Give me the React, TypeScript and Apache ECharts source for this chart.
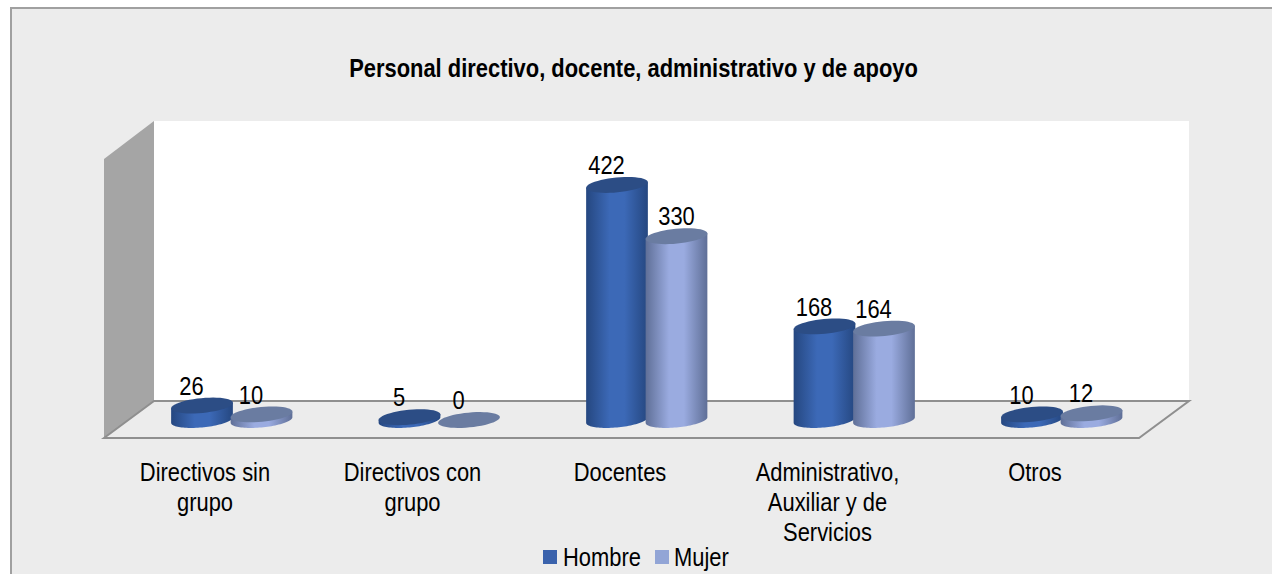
import React, { useEffect, useRef } from "react";
import * as echarts from "echarts";

const categories = [
  "Directivos sin\ngrupo",
  "Directivos con\ngrupo",
  "Docentes",
  "Administrativo,\nAuxiliar y de\nServicios",
  "Otros",
];
const hombre = [26, 5, 422, 168, 10];
const mujer = [10, 0, 330, 164, 12];
const titleText = "Personal directivo, docente, administrativo y de apoyo";

const FONT = "'Liberation Sans', Arial, sans-serif";
const HOMBRE_COLOR = "#3a62ac";
const MUJER_COLOR = "#92a5d6";
const RX = 31;
const RY = 7.4;
const ROT = (5.5 * Math.PI) / 180;
const NARROW = 0.86;
const STEPS = 48;

// Point on the tilted ellipse that forms a cylinder cap.
function capPoint(cx: number, cy: number, t: number) {
  const ex = RX * Math.cos(t);
  const ey = RY * Math.sin(t);
  return [cx + ex * Math.cos(ROT) + ey * Math.sin(ROT), cy - ex * Math.sin(ROT) + ey * Math.cos(ROT)];
}
// Parameter at which the ellipse reaches its rightmost x (silhouette of the cylinder).
const T_RIGHT = Math.atan2(RY * Math.sin(ROT), RX * Math.cos(ROT));

echarts.graphic.registerShape(
  "cylCap",
  echarts.graphic.extendShape({
    shape: { cx: 0, cy: 0 },
    buildPath(ctx: any, s: any) {
      for (let k = 0; k <= STEPS; k++) {
        const p = capPoint(s.cx, s.cy, (k / STEPS) * Math.PI * 2);
        if (k === 0) ctx.moveTo(p[0], p[1]);
        else ctx.lineTo(p[0], p[1]);
      }
      ctx.closePath();
    },
  })
);
echarts.graphic.registerShape(
  "cylSide",
  echarts.graphic.extendShape({
    shape: { cx: 0, top: 0, base: 0 },
    buildPath(ctx: any, s: any) {
      const start = capPoint(s.cx, s.top, T_RIGHT);
      ctx.moveTo(start[0], start[1]);
      for (let k = 0; k <= STEPS; k++) {
        const p = capPoint(s.cx, s.base, T_RIGHT + (k / STEPS) * Math.PI);
        ctx.lineTo(p[0], p[1]);
      }
      const end = capPoint(s.cx, s.top, T_RIGHT + Math.PI);
      ctx.lineTo(end[0], end[1]);
      ctx.closePath();
    },
  })
);

function sideGradient(edge: string, mid: string) {
  return new echarts.graphic.LinearGradient(0, 0, 1, 0, [
    { offset: 0, color: edge },
    { offset: 0.38, color: mid },
    { offset: 0.62, color: mid },
    { offset: 1, color: edge },
  ]);
}

function cylinderSeries(name: string, values: number[], dx: number, legendColor: string, top: string, edge: string, mid: string) {
  return {
    type: "custom",
    name,
    data: values.map((v, i) => [i, v]),
    itemStyle: { color: legendColor },
    encode: { x: 0, y: 1 },
    silent: true,
    renderItem: (_p: any, api: any) => {
      const i = api.value(0);
      const v = api.value(1);
      const [cxRaw, base] = api.coord([i, 0]);
      const [, topY] = api.coord([i, v]);
      const cx = cxRaw + dx;
      const labelDx = name === "Mujer" && i === 2 ? 0 : -10.5;
      const children: any[] = [];
      if (v > 0) {
        children.push({
          type: "cylSide",
          shape: { cx, top: topY, base },
          style: { fill: sideGradient(edge, mid) },
        });
      }
      children.push({ type: "cylCap", shape: { cx, cy: topY }, style: { fill: top } });
      children.push({
        type: "text",
        x: cx + labelDx,
        y: topY - 20,
        scaleX: NARROW,
        style: {
          text: String(v),
          fill: "#000",
          font: `25.5px ${FONT}`,
          align: "center",
          verticalAlign: "middle",
        },
      });
      return { type: "group", children };
    },
  };
}

const categoryLabelSeries = {
  type: "custom",
  name: "Categorías",
  data: categories.map((_c, i) => [i, 0]),
  encode: { x: 0, y: 1 },
  silent: true,
  renderItem: (_p: any, api: any) => {
    const i = api.value(0);
    const [x] = api.coord([i, 0]);
    return {
      type: "text",
      x,
      y: 456.5,
      scaleX: NARROW,
      style: {
        text: categories[i],
        fill: "#000",
        font: `25.5px ${FONT}`,
        lineHeight: 30,
        align: "center",
        verticalAlign: "top",
      },
    };
  },
};

function narrowText(text: string, x: number, y: number, align: string, weight: string) {
  return {
    type: "text",
    x,
    y,
    scaleX: NARROW,
    z: 10,
    style: { text, fill: "#000", font: `${weight} 25.5px ${FONT}`, align, verticalAlign: "middle" },
  };
}

export default function App() {
  const ref = useRef<HTMLDivElement>(null);
  useEffect(() => {
    const chart = echarts.init(ref.current!, undefined, { renderer: "svg" });
    chart.setOption({
      animation: false,
      backgroundColor: "#ffffff",
      grid: { left: 101.25, width: 1037.5, top: 141.5, height: 278.5 },
      xAxis: {
        type: "category",
        data: categories,
        axisLine: { show: false },
        axisTick: { show: false },
        splitLine: { show: false },
        axisLabel: { show: false },
      },
      yAxis: { type: "value", min: 0, max: 500, show: false },
      graphic: [
        { type: "rect", z: -10, shape: { x: 11, y: 8, width: 1280, height: 580 }, style: { fill: "#ececec", stroke: "#a0a0a0", lineWidth: 2 } },
        { type: "rect", z: -9, shape: { x: 154, y: 121, width: 1035, height: 280 }, style: { fill: "#ffffff" } },
        { type: "polygon", z: -9, shape: { points: [[104, 159], [154, 121], [154, 401], [104, 438]] }, style: { fill: "#a5a5a5" } },
        { type: "polygon", z: -8, shape: { points: [[104, 438], [154, 401], [1189, 401], [1139, 438]] }, style: { fill: "#ececec", stroke: "#8f8f8f", lineWidth: 2 } },
        narrowText(titleText, 633.5, 68, "center", "bold"),
        { type: "rect", z: 10, shape: { x: 543, y: 550, width: 14, height: 14 }, style: { fill: HOMBRE_COLOR } },
        narrowText("Hombre", 563, 557, "left", "normal"),
        { type: "rect", z: 10, shape: { x: 655, y: 550, width: 14, height: 14 }, style: { fill: MUJER_COLOR } },
        narrowText("Mujer", 674, 557, "left", "normal"),
      ],
      series: [
        cylinderSeries("Hombre", hombre, -3, HOMBRE_COLOR, "#2c4d85", "#254780", "#3c69b7"),
        cylinderSeries("Mujer", mujer, 56.5, MUJER_COLOR, "#6a7ca1", "#5f6f97", "#9aabe0"),
        categoryLabelSeries,
      ],
    });
    return () => chart.dispose();
  }, []);
  return <div ref={ref} style={{ position: "absolute", left: 0, top: 0, width: 1272, height: 574 }} />;
}
